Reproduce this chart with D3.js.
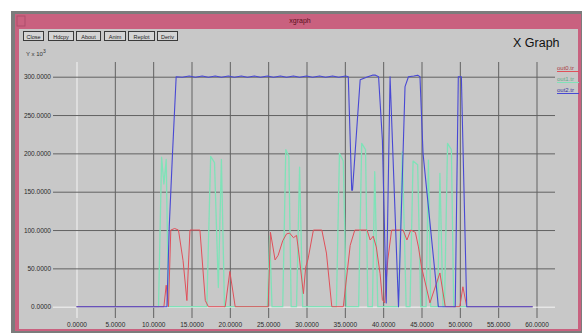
<!DOCTYPE html>
<html><head><meta charset="utf-8">
<script src="https://cdn.jsdelivr.net/npm/d3@7"></script>
<style>html,body{margin:0;padding:0;background:#fff;}svg{display:block;}</style>
</head><body>
<svg id="c" width="582" height="333"></svg>
<script>
// ---- data (x in time units, y in units of 10^3) ----
const seriesNames = ["out0.tr", "out1.tr", "out2.tr"];
const xTickValues = [0, 5, 10, 15, 20, 25, 30, 35, 40, 45, 50, 55, 60];
const xTickLabels = ["0.0000","5.0000","10.0000","15.0000","20.0000","25.0000","30.0000","35.0000","40.0000","45.0000","50.0000","55.0000","60.0000"];
const yTickValues = [0, 50, 100, 150, 200, 250, 300];
const yTickLabels = ["0.0000","50.0000","100.0000","150.0000","200.0000","250.0000","300.0000"];
const buttonLabels = ["Close","Hdcpy","About","Anim","Replot","Deriv"];

const redT = [0,11.4,11.7,12.0,12.3,12.8,13.3,13.9,14.4,14.8,16.1,16.8,17.2,19.4,20.0,20.7,25.0,25.3,25.9,26.3,26.9,27.4,27.8,28.3,28.7,28.9,29.6,29.9,30.2,30.9,32.0,32.6,33.3,34.8,35.7,36.3,37.9,38.3,38.7,39.1,39.6,39.9,40.2,40.6,41.1,42.6,43.1,43.6,44.2,44.6,45.0,46.1,47.4,48.1,50.0,50.4,50.9,59.5];
const redV = [0,0,28,0,100,102,100,60,8,100,100,8,0,0,46,0,0,97,61,67,86,95,96,90,93,78,17,52,62,100,100,70,0,0,80,100,100,87,92,78,43,9,5,61,100,100,87,100,97,78,52,5,44,0,0,26,0,0];

const greenT = [0,10.7,11.1,11.4,11.7,12.0,17.0,17.5,18.0,18.5,18.9,19.3,24.9,25.2,25.5,26.9,27.3,27.7,28.0,28.7,29.1,29.5,33.9,34.3,34.8,35.2,36.8,37.2,37.7,38.0,38.6,38.9,39.3,42.0,42.5,43.0,43.5,43.9,44.5,44.9,45.6,45.9,46.2,47.1,47.4,47.8,48.0,48.4,48.9,49.2,59.5];
const greenV = [0,0,195,160,192,0,0,196,188,25,192,0,0,92,0,0,205,196,0,0,182,0,0,200,190,0,0,213,205,0,0,176,0,0,202,0,0,190,185,0,0,191,0,0,174,0,0,213,205,0,0];

const blueT = [0,11.8,12.1,12.5,13.0,13.8,14.7,15.5,16.4,17.2,18.1,18.9,19.8,20.6,21.5,22.3,23.2,24.0,24.9,25.7,26.6,27.4,28.3,29.1,30.0,30.8,31.7,32.5,33.4,34.2,35.1,35.45,35.9,36.0,37.0,38.0,38.6,39.0,39.4,39.9,40.4,40.9,42.0,42.85,43.3,44.0,44.5,44.8,45.2,47.2,49.4,49.8,50.2,50.4,50.9,59.5];
const blueV = [0,0,105,195,300,299.2,301.0,299.2,301.0,299.2,301.0,299.2,301.0,299.2,301.0,299.2,301.0,299.2,301.0,299.2,301.0,299.2,301.0,299.2,301.0,299.2,301.0,299.2,301.0,299.2,301.0,300,152,152,296,300,302,302,300,217,5,300,0,287,300,301,302,300,200,0,0,300,300,213,0,0];

const seriesColors = ["#e0505a", "#7fe2b8", "#4848d4"];

// ---- drawing ----
const svg = d3.select("#c");
const FONT = "Liberation Sans, Arial, sans-serif";
// window chrome
svg.append("rect").attr("x",11).attr("y",11).attr("width",571).attr("height",322).attr("fill","#7c7c7c");
svg.append("rect").attr("x",15).attr("y",14).attr("width",566).attr("height",317).attr("fill","#c9617f");
svg.append("rect").attr("x",19).attr("y",29).attr("width",559).attr("height",300).attr("fill","#c8c8c8");
svg.append("text").attr("x",300).attr("y",22.5).attr("text-anchor","middle")
  .attr("font-family",FONT).attr("font-size",7).attr("fill","#5a1020").text("xgraph");
svg.append("rect").attr("x",17).attr("y",16).attr("width",8).attr("height",10).attr("fill","none").attr("stroke","#a84a66").attr("stroke-width",0.8);

// buttons
const bx = [23,48,76,104,128,157], bw = [20,25,24,21,26,20];
buttonLabels.forEach((b,i)=>{
  svg.append("rect").attr("x",bx[i]+0.5).attr("y",31.5).attr("width",bw[i]).attr("height",9)
    .attr("fill","#d4d4d4").attr("stroke","#3a3a3a").attr("stroke-width",1);
  svg.append("text").attr("x",bx[i]+bw[i]/2+0.5).attr("y",38.5).attr("text-anchor","middle")
    .attr("font-family",FONT).attr("font-size",5.5).attr("fill","#222").text(b);
});

svg.append("text").attr("x",513).attr("y",47).attr("font-family",FONT)
  .attr("font-size",12.5).attr("fill","#111").text("X Graph");

const yl = svg.append("text").attr("x",26).attr("y",56).attr("font-family",FONT)
  .attr("font-size",6).attr("fill","#333");
yl.append("tspan").text("Y x 10");
yl.append("tspan").attr("dy",-3).attr("font-size",5).text("3");

// scales
const x = d3.scaleLinear().domain([0,60]).range([76.5,536.5]);
const y = d3.scaleLinear().domain([0,300]).range([306.7,76.7]);
const plotL = 53, plotR = 555, plotT = 62, plotB = 318;

// axes as grids
const xAxis = d3.axisBottom(x).tickValues(xTickValues)
  .tickFormat((d,i)=>xTickLabels[i]).tickSize(-(plotB-plotT)).tickPadding(4);
const gx = svg.append("g").attr("transform",`translate(0,${plotB})`).call(xAxis);
gx.select(".domain").remove();
gx.selectAll("line").attr("stroke","#626262").attr("stroke-width",1);
gx.selectAll("text").attr("font-family",FONT).attr("font-size",6.5).attr("fill","#2a2a2a");

const yAxis = d3.axisLeft(y).tickValues(yTickValues)
  .tickFormat((d,i)=>yTickLabels[i]).tickSize(-(plotR-plotL)).tickPadding(2);
const gy = svg.append("g").attr("transform",`translate(${plotL},0)`).call(yAxis);
gy.select(".domain").remove();
gy.selectAll("line").attr("stroke","#626262").attr("stroke-width",1);
gy.selectAll("text").attr("font-family",FONT).attr("font-size",6.5).attr("fill","#2a2a2a");

// zero axes in white
gx.selectAll(".tick").filter(d=>d===0).select("line").attr("stroke","#f4f4f4");
gy.selectAll(".tick").filter(d=>d===0).select("line").attr("stroke","#f4f4f4");

// lines
const line = d3.line().x(d=>x(d[0])).y(d=>y(d[1]));
const series = [
  {t: greenT, v: greenV, c: seriesColors[1], w: 1.3},
  {t: redT, v: redV, c: seriesColors[0], w: 1},
  {t: blueT, v: blueV, c: seriesColors[2], w: 1.1}
];
series.forEach(s=>{
  const pts = s.t.map((t,i)=>[t, s.v[i]]);
  svg.append("path").datum(pts).attr("d",line).attr("fill","none")
    .attr("stroke",s.c).attr("stroke-width",s.w).attr("stroke-linejoin","round");
});

// legend
seriesNames.forEach((n,i)=>{
  const yy = 70 + i*11;
  svg.append("text").attr("x",557).attr("y",yy).attr("font-family",FONT)
    .attr("font-size",6).attr("fill",d3.color(seriesColors[i]).darker(0.8)).text(n);
  svg.append("line").attr("x1",557).attr("x2",579).attr("y1",yy+1.5).attr("y2",yy+1.5)
    .attr("stroke",seriesColors[i]).attr("stroke-width",1);
});
</script>
</body></html>
